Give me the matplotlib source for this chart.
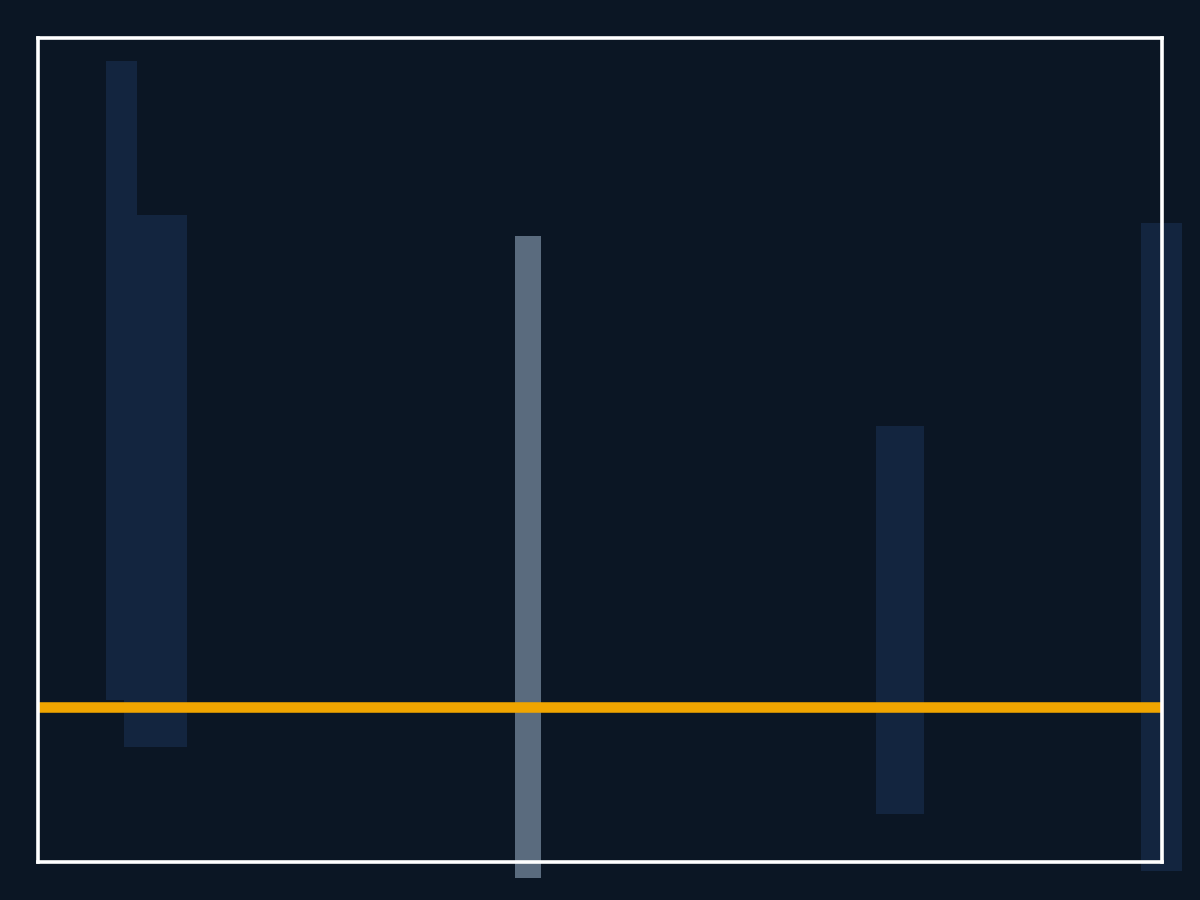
import numpy as np
import matplotlib
matplotlib.use("Agg")
import matplotlib.pyplot as plt

# floating bars: centre, width, bottom, top (data units)
bar_x = [0.835, 1.175, 8.625, 11.235]
bar_w = [0.31, 0.63, 0.48, 0.41]
bar_lo = [0.07, -0.40, -1.07, -1.64]
bar_hi = [6.46, 4.92, 2.81, 4.84]

hl_x = 4.90
hl_w = 0.26
hl_lo = -1.71
hl_hi = 4.71

baseline = 0.0

BG = "#0b1624"
BAR = "#13253f"
HL = "#5a6b7e"
ORANGE = "#f0a500"

fig = plt.figure(figsize=(12, 9), dpi=100, facecolor=BG)
ax = fig.add_axes([37.5 / 1200, (900 - 861.5) / 900, 1124 / 1200, 824 / 900])
ax.set_facecolor(BG)

heights = np.array(bar_hi) - np.array(bar_lo)
ax.bar(bar_x, heights, width=bar_w, bottom=bar_lo, color=BAR,
       clip_on=False, zorder=1, linewidth=0)
ax.bar([hl_x], [hl_hi - hl_lo], width=hl_w, bottom=hl_lo, color=HL,
       clip_on=False, zorder=1.5, linewidth=0)
ax.axhline(baseline, color=ORANGE, linewidth=7.6, zorder=2)

ax.set_xlim(0, 11.24)
ax.set_ylim(-1.545, 6.695)
ax.set_xticks([])
ax.set_yticks([])
for s in ax.spines.values():
    s.set_color("white")
    s.set_linewidth(2.6)
    s.set_zorder(3)

fig.savefig("out.png", dpi=100, facecolor=BG)
